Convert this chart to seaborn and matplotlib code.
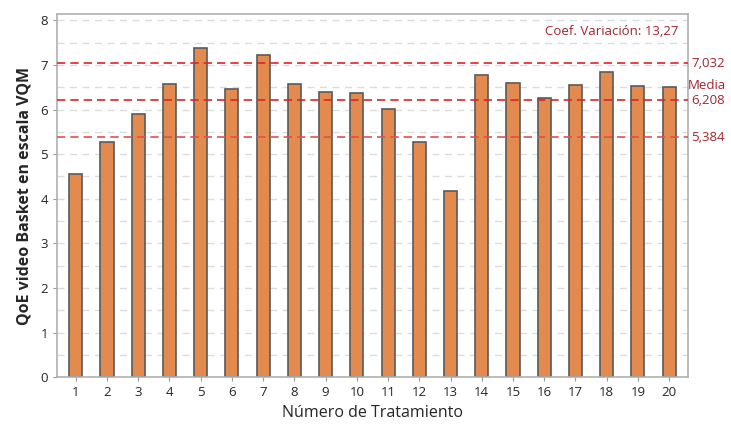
import matplotlib
matplotlib.use("Agg")
import matplotlib.pyplot as plt
import seaborn as sns
import pandas as pd

# values
tratamientos = [str(i) for i in range(1, 21)]
qoe = [4.55, 5.27, 5.90, 6.58, 7.38, 6.45, 7.23, 6.58, 6.40, 6.36,
       6.02, 5.27, 4.18, 6.78, 6.60, 6.25, 6.55, 6.85, 6.52, 6.50]
media = 6.208
lim_sup = 7.032
lim_inf = 5.384
coef_var = "13,27"

data = pd.DataFrame({'Tratamiento': tratamientos, 'QoE': qoe})

sns.set_style('white')
plt.rcParams['font.family'] = ['Open Sans', 'DejaVu Sans']

fig, ax = plt.subplots(figsize=(7.31, 4.24), dpi=100)
fig.subplots_adjust(left=0.078, right=0.941, top=0.968, bottom=0.11)

# background grid every 0.5
for v in [i * 0.5 for i in range(1, 17)]:
    ax.axhline(v, color='#dcdcdc', lw=1, ls=(0, (5, 4)), zorder=0)

sns.barplot(data=data, x='Tratamiento', y='QoE', color='#e38b4f',
            width=0.42, edgecolor='#5a5a5a', linewidth=1.2, saturation=1,
            ax=ax, zorder=2)

ax.axhline(lim_sup, color='#d8262a', lw=1.2, ls=(0, (5, 3)), zorder=3)
ax.axhline(media, color='#d8262a', lw=1.2, ls=(0, (5, 3)), zorder=3)
ax.axhline(lim_inf, color='#e05050', lw=1.2, ls=(0, (5, 3)), zorder=3)

red = '#a3262c'
trans = ax.get_yaxis_transform()
ax.text(1.005, lim_sup, '7,032', transform=trans, color=red, fontsize=9.5, va='center', ha='left')
ax.text(1.005, media, '6,208', transform=trans, color=red, fontsize=9.5, va='center', ha='left')
ax.text(1.0, media + 0.32, 'Media', transform=trans, color=red, fontsize=9.5, va='center', ha='left')
ax.text(1.005, lim_inf, '5,384', transform=trans, color=red, fontsize=9.5, va='center', ha='left')
ax.text(0.985, 7.75, 'Coef. Variación: ' + coef_var, transform=trans, color=red,
        fontsize=9.5, va='center', ha='right')

ax.set_ylim(0, 8.15)
ax.set_xlim(-0.6, 19.6)
ax.set_yticks(range(0, 9))
ax.set_xlabel('Número de Tratamiento', fontsize=11.5, labelpad=4)
ax.set_ylabel('QoE video Basket en escala VQM', fontsize=11.5, fontweight='bold', labelpad=6)
ax.tick_params(axis='both', labelsize=9.5, length=3, color='#999999', left=True, bottom=True)
for s in ax.spines.values():
    s.set_color('#b0b0b0')
    s.set_linewidth(1.2)

plt.savefig('out.png', dpi=100)
